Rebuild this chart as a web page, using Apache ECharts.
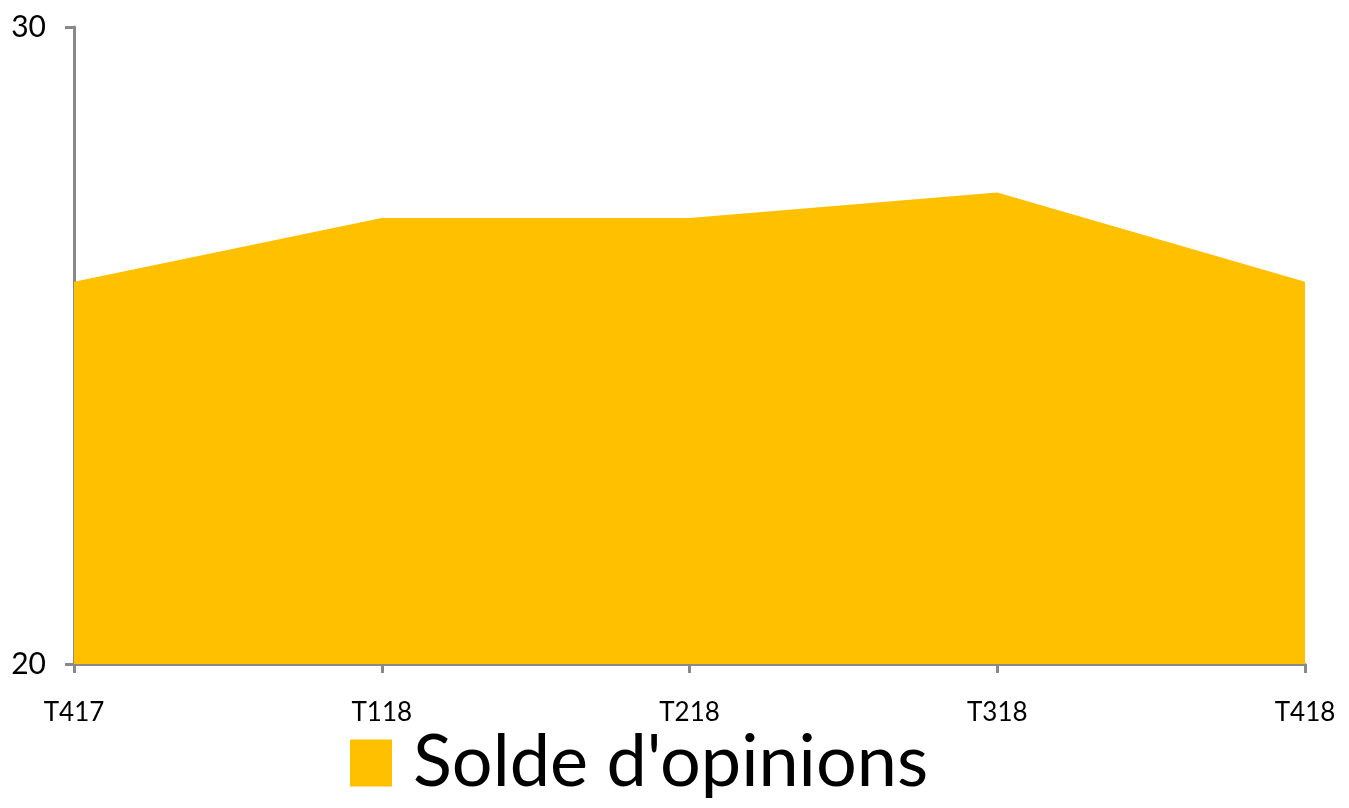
<!DOCTYPE html>
<html>
<head>
<meta charset="utf-8">
<script src="https://cdn.jsdelivr.net/npm/echarts@6/dist/echarts.min.js"></script>
<style>
  html, body { margin: 0; padding: 0; background: #fff; }
  #chart { width: 1349px; height: 808px; }
</style>
</head>
<body>
<div id="chart"></div>
<script>
// quarters and balance of opinions
const quarters = ['T417', 'T118', 'T218', 'T318', 'T418'];
const soldeOpinions = [26.0, 27.0, 27.0, 27.4, 26.0];
const yTicks = [20, 30];

const axisGrey = '#898989';
const chart = echarts.init(document.getElementById('chart'));

const option = {
  animation: false,
  textStyle: { fontFamily: 'Lato, "Open Sans", sans-serif' },
  grid: { left: 74, right: 44, top: 27, bottom: 144, containLabel: false },
  legend: {
    data: ['Solde d\'opinions'],
    left: 350,
    top: 727,
    padding: 0,
    icon: 'rect',
    itemWidth: 42,
    itemHeight: 47,
    textStyle: { fontSize: 72, color: '#000', padding: [0, 0, 0, 16] }
  },
  xAxis: {
    type: 'category',
    data: quarters,
    boundaryGap: false,
    axisLine: { lineStyle: { color: axisGrey, width: 3 } },
    axisTick: { length: 9, lineStyle: { color: axisGrey, width: 3 } },
    axisLabel: { color: '#000', fontSize: 26, margin: 36 }
  },
  yAxis: {
    type: 'value',
    min: yTicks[0],
    max: yTicks[1],
    interval: yTicks[1] - yTicks[0],
    splitLine: { show: false },
    axisLine: { show: true, lineStyle: { color: axisGrey, width: 3 } },
    axisTick: { show: true, length: 9, lineStyle: { color: axisGrey, width: 3 } },
    axisLabel: { color: '#000', fontSize: 30, margin: 28 }
  },
  series: [{
    name: 'Solde d\'opinions',
    type: 'line',
    data: soldeOpinions,
    symbol: 'none',
    itemStyle: { color: '#FFC000' },
    lineStyle: { width: 0 },
    areaStyle: { color: '#FFC000', opacity: 1 },
    z: 1
  }]
};

chart.setOption(option);
</script>
</body>
</html>
